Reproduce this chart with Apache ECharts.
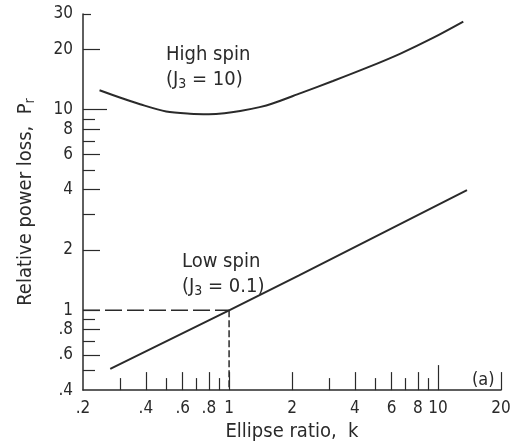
<!DOCTYPE html>
<html>
<head>
<meta charset="utf-8">
<script src="https://cdn.jsdelivr.net/npm/echarts@6/dist/echarts.min.js"></script>
<style>
html, body { margin: 0; padding: 0; background: #fff; }
#chart { width: 515px; height: 447px; }
</style>
</head>
<body>
<div id="chart"></div>
<script>
// relative power loss Pr against ellipse ratio k, log-log
var highSpinK = [0.24, 0.3, 0.375, 0.5, 0.65, 0.8, 0.95, 1.13, 1.4, 1.6, 2.2, 3.14, 4.57, 6.57, 9.45, 13.2];
var highSpinP = [12.5, 11.5, 10.65, 9.8, 9.55, 9.5, 9.6, 9.85, 10.3, 10.7, 12.1, 13.9, 16.2, 19.0, 22.8, 27.5];
var lowSpinK = [0.27, 1, 2.15, 13.75];
var lowSpinP = [0.51, 1, 1.49, 3.97];
// dashed guide at k = 1, Pr = 1
var guideHK = [0.2, 1];
var guideHP = [1, 1];
var guideVK = [1, 1];
var guideVP = [1, 0.4];

var xLabels = [0.2, 0.4, 0.6, 0.8, 1, 2, 4, 6, 8, 10, 20];
var xMajorTicks = [0.4, 0.6, 0.8, 1, 2, 4, 6, 8, 20];
var xMinorTicks = [0.3, 0.5, 0.7, 0.9, 3, 5, 7, 9];
var xDecadeTicks = [10];
var yLabels = [0.4, 0.6, 0.8, 1, 2, 4, 6, 8, 10, 20, 30];
var yMajorTicks = [0.6, 0.8, 1, 2, 4, 6, 8, 20];
var yMinorTicks = [0.5, 0.7, 0.9, 3, 5, 7, 9];
var yDecadeTicks = [10];
var yTopTicks = [30];

var font = "'Liberation Sans Narrow', 'DejaVu Sans Condensed', sans-serif";
var ink = '#2a2a2a';

function pairs(xs, ys) {
    return xs.map(function (x, i) { return [x, ys[i]]; });
}
function fmt(v) {
    return String(v).replace(/^0\./, '.');
}

// one axis per tick length, all sharing the same grid and range
function tickAxis(dim, ticks, len) {
    return {
        type: 'log',
        min: dim === 'x' ? 0.2 : 0.4,
        max: dim === 'x' ? 20 : 30,
        position: dim === 'x' ? 'bottom' : 'left',
        axisLine: {show: false, onZero: false},
        axisTick: {show: true, inside: true, length: len, customValues: ticks,
            lineStyle: {color: ink, width: 1.2}},
        axisLabel: {show: false},
        splitLine: {show: false},
        minorTick: {show: false}
    };
}

var subRich = {
    sub: {fontFamily: font, fontSize: 14, color: ink, padding: [9, 0, 0, 0]}
};

var xMain = tickAxis('x', xMajorTicks, 18);
xMain.axisLine = {show: true, onZero: false, lineStyle: {color: ink, width: 1.5}};
xMain.axisLabel = {show: true, customValues: xLabels, formatter: fmt, margin: 10,
    fontFamily: font, fontSize: 17, color: ink};
xMain.name = 'Ellipse ratio,  k';
xMain.nameLocation = 'middle';
xMain.nameGap = 28;
xMain.nameTextStyle = {fontFamily: font, fontSize: 20, color: ink};

var yMain = tickAxis('y', yMajorTicks, 17);
yMain.axisLine = {show: true, onZero: false, lineStyle: {color: ink, width: 1.5}};
yMain.axisLabel = {show: true, customValues: yLabels, formatter: fmt, margin: 10,
    fontFamily: font, fontSize: 17, color: ink};
yMain.name = 'Relative power loss,  P{sub|r}';
yMain.nameLocation = 'middle';
yMain.nameRotate = 90;
yMain.nameGap = 46;
yMain.nameTextStyle = {fontFamily: font, fontSize: 20, color: ink, rich: subRich};

var option = {
    backgroundColor: '#fff',
    animation: false,
    grid: {left: 83, right: 14, top: 14, bottom: 53},
    xAxis: [xMain, tickAxis('x', xMinorTicks, 12), tickAxis('x', xDecadeTicks, 25)],
    yAxis: [yMain, tickAxis('y', yMinorTicks, 12), tickAxis('y', yDecadeTicks, 24),
        tickAxis('y', yTopTicks, 8)],
    graphic: [
        {type: 'text', x: 166, y: 55, style: {text: 'High spin', fontFamily: font,
            fontSize: 20, fill: ink, verticalAlign: 'middle'}},
        {type: 'text', x: 166, y: 80, style: {text: '(J{sub|3} = 10)', fontFamily: font,
            fontSize: 20, fill: ink, verticalAlign: 'middle', rich: subRich}},
        {type: 'text', x: 182, y: 262, style: {text: 'Low spin', fontFamily: font,
            fontSize: 20, fill: ink, verticalAlign: 'middle'}},
        {type: 'text', x: 182, y: 287, style: {text: '(J{sub|3} = 0.1)', fontFamily: font,
            fontSize: 20, fill: ink, verticalAlign: 'middle', rich: subRich}},
        {type: 'text', x: 472, y: 380, style: {text: '(a)', fontFamily: font,
            fontSize: 18, fill: ink, verticalAlign: 'middle'}}
    ],
    series: [
        {
            name: 'High spin', type: 'line', smooth: 0.3, showSymbol: false,
            lineStyle: {color: ink, width: 2},
            data: pairs(highSpinK, highSpinP)
        },
        {
            name: 'Low spin', type: 'line', showSymbol: false,
            lineStyle: {color: ink, width: 2},
            data: pairs(lowSpinK, lowSpinP)
        },
        {
            type: 'line', showSymbol: false,
            lineStyle: {color: ink, width: 1.5, type: [17, 5]},
            data: pairs(guideHK, guideHP)
        },
        {
            type: 'line', showSymbol: false,
            lineStyle: {color: ink, width: 1.5, type: [7, 3]},
            data: pairs(guideVK, guideVP)
        }
    ]
};

var chart = echarts.init(document.getElementById('chart'));
chart.setOption(option);
</script>
</body>
</html>
